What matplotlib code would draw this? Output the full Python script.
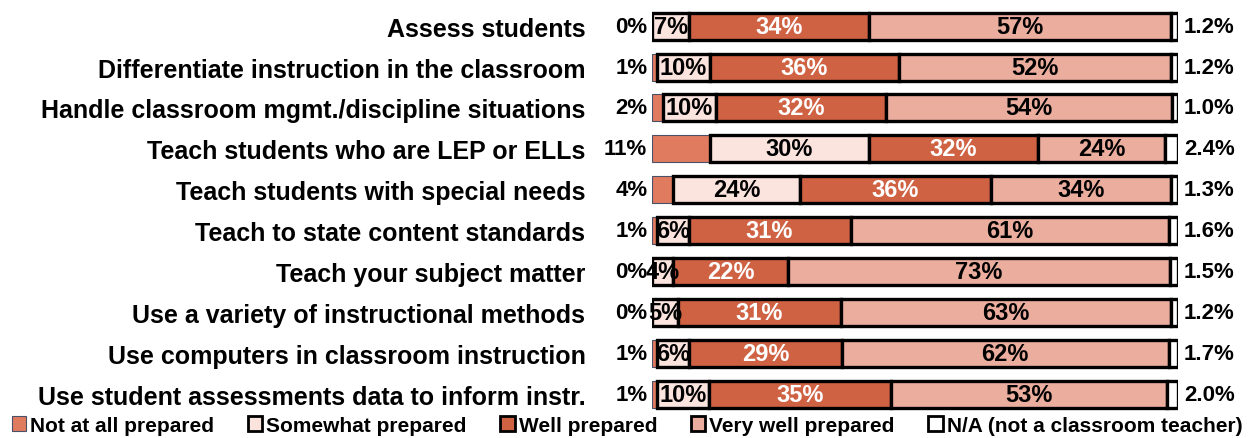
import numpy as np
import matplotlib.pyplot as plt
from matplotlib.patches import Patch

plt.rcParams['font.family'] = ['Liberation Sans', 'DejaVu Sans']
plt.rcParams['font.weight'] = 'bold'

categories = ["Assess students",
              "Differentiate instruction in the classroom",
              "Handle classroom mgmt./discipline situations",
              "Teach students who are LEP or ELLs",
              "Teach students with special needs",
              "Teach to state content standards",
              "Teach your subject matter",
              "Use a variety of instructional methods",
              "Use computers in classroom instruction",
              "Use student assessments data to inform instr."]
not_at_all = [0, 1, 2, 11, 4, 1, 0, 0, 1, 1]
somewhat = [7, 10, 10, 30, 24, 6, 4, 5, 6, 10]
well = [34, 36, 32, 32, 36, 31, 22, 31, 29, 35]
very_well = [57, 52, 54, 24, 34, 61, 73, 63, 62, 53]
na = [1.2, 1.2, 1.0, 2.4, 1.3, 1.6, 1.5, 1.2, 1.7, 2.0]

series = ["Not at all prepared", "Somewhat prepared", "Well prepared",
          "Very well prepared", "N/A (not a classroom teacher)"]
colors = ["#E07B60", "#FBE3DE", "#D06244", "#EBAE9E", "#FFFFFF"]

fig = plt.figure(figsize=(12.54, 4.39), dpi=100)
ax = fig.add_axes([0.52, 0.052, 0.419, 0.933])

data = np.array([not_at_all, somewhat, well, very_well, na], dtype=float)
# rounded shares don't add to exactly 100, scale each bar to full width
scaled = data / data.sum(axis=0) * 100

y = np.arange(len(categories))
h = 0.66
left = np.zeros(len(categories))
for i in range(len(series)):
    vals = scaled[i]
    if i == 0:
        ax.barh(y, vals, left=left, height=h, color=colors[i],
                edgecolor="#4a5068", linewidth=0.8)
    else:
        ax.barh(y, vals, left=left, height=h, color=colors[i],
                edgecolor="black", linewidth=2.4)
    if i in (1, 2, 3):
        for yy, l, v, lab in zip(y, left, vals, data[i]):
            ax.text(l + v / 2, yy, f"{lab:.0f}%", ha="center", va="center",
                    fontsize=17, color="white" if i == 2 else "black",
                    fontweight="bold")
    left += vals

for yy, v in zip(y, not_at_all):
    ax.text(-0.9, yy, f"{v}%", ha="right", va="center", fontsize=16,
            fontweight="bold")
for yy, v in zip(y, na):
    ax.text(101.2, yy, f"{v:.1f}%", ha="left", va="center", fontsize=16,
            fontweight="bold")

ax.set_xlim(0, 100)
ax.set_ylim(len(categories) - 0.5, -0.5)
ax.set_yticks(y)
ax.set_yticklabels(categories, fontsize=18, fontweight="bold")
ax.tick_params(axis="y", length=0, pad=48)
ax.set_xticks([])
for s in ax.spines.values():
    s.set_visible(False)

handles = [Patch(facecolor=c, edgecolor="black" if k else "#4a5068",
                 linewidth=2 if k else 0.8) for k, c in enumerate(colors)]
fig.legend(handles, series, loc="lower center", ncol=5, frameon=False,
           bbox_to_anchor=(0.5, -0.035), fontsize=15, handlelength=0.7,
           handleheight=0.7, handletextpad=0.2, columnspacing=1.6)

fig.savefig("out.png", dpi=100)
